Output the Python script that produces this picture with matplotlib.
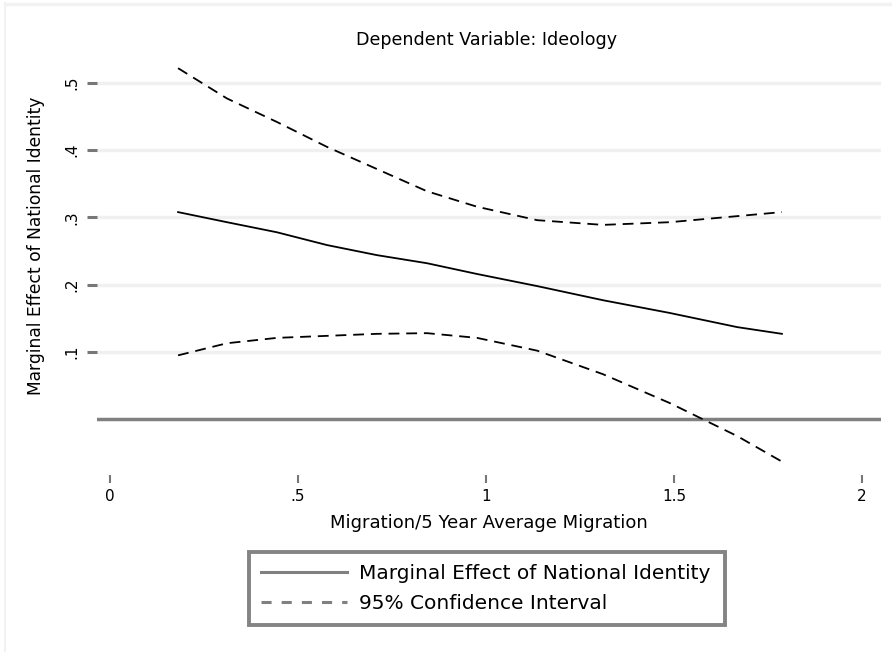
import numpy as np
import matplotlib.pyplot as plt
from matplotlib.lines import Line2D

# migration ratio (x) and the estimated marginal effect with its 95% band
migration = [0.181, 0.311, 0.444, 0.577, 0.710, 0.843, 0.976, 1.136, 1.311, 1.489, 1.668, 1.787]
effect    = [0.308, 0.293, 0.278, 0.259, 0.244, 0.232, 0.216, 0.198, 0.177, 0.158, 0.137, 0.127]
ci_upper  = [0.522, 0.477, 0.442, 0.405, 0.372, 0.339, 0.316, 0.296, 0.289, 0.293, 0.302, 0.308]
ci_lower  = [0.095, 0.113, 0.121, 0.124, 0.127, 0.128, 0.121, 0.102, 0.067, 0.024, -0.025, -0.063]

xticks = [0, 0.5, 1, 1.5, 2]
xticklabels = ['0', '.5', '1', '1.5', '2']
yticks = [0.1, 0.2, 0.3, 0.4, 0.5]
yticklabels = ['.1', '.2', '.3', '.4', '.5']

fig = plt.figure(figsize=(8.92, 6.52), dpi=100)
ax = fig.add_axes([97/892, 177/652, 784/892, 420/652])

# faint outer frame on the top and left
fig.add_artist(Line2D([5/892, 5/892], [0, 1 - 3/652], color='#f2f2f2', lw=1.5))
fig.add_artist(Line2D([5/892, 1], [1 - 4/652, 1 - 4/652], color='#f2f2f2', lw=2.5))

for v in yticks:
    ax.axhline(v, color='#f0f0f0', lw=2.5, zorder=0)
ax.axhline(0, color='#808080', lw=2.5, zorder=1)

dash = (0, (6, 3.8))
ax.plot(migration, effect, color='black', lw=1.3)
ax.plot(migration, ci_upper, color='black', lw=1.3, ls=dash)
ax.plot(migration, ci_lower, color='black', lw=1.3, ls=dash)

ax.set_xlim(-0.0346, 2.0505)
ax.set_ylim(-0.0829, 0.5416)
for s in ax.spines.values():
    s.set_visible(False)

ax.set_xticks(xticks)
ax.set_xticklabels(xticklabels, fontsize=11)
ax.set_yticks(yticks)
ax.set_yticklabels(yticklabels, fontsize=11, rotation=90, va='center')
ax.tick_params(axis='x', length=6, width=1.5, color='#777777', pad=4)
ax.tick_params(axis='y', length=7, width=2.2, color='#777777', pad=6)

ax.set_xlabel('Migration/5 Year Average Migration', fontsize=13, labelpad=7)
ax.set_ylabel('Marginal Effect of National Identity', fontsize=12.3)
ax.yaxis.set_label_coords(-52/784, 0.545)
fig.text(487/892, 1 - 40/652, 'Dependent Variable: Ideology', fontsize=12.6,
         ha='center', va='center')

handles = [Line2D([], [], color='#808080', lw=2.2),
           Line2D([], [], color='#808080', lw=2.2, ls=(0, (3.3, 3.3)))]
leg = fig.legend(handles, ['Marginal Effect of National Identity', '95% Confidence Interval'],
                 loc='lower left', bbox_to_anchor=(249/892, 27/652, 476/892, 76/652),
                 mode='expand', borderaxespad=0, fontsize=14.5, fancybox=False,
                 handlelength=4.25, handletextpad=0.6, labelspacing=0.55, borderpad=0.6)
leg.get_frame().set_edgecolor('#666666')
leg.get_frame().set_linewidth(2.8)

fig.savefig('out.png', dpi=100)
